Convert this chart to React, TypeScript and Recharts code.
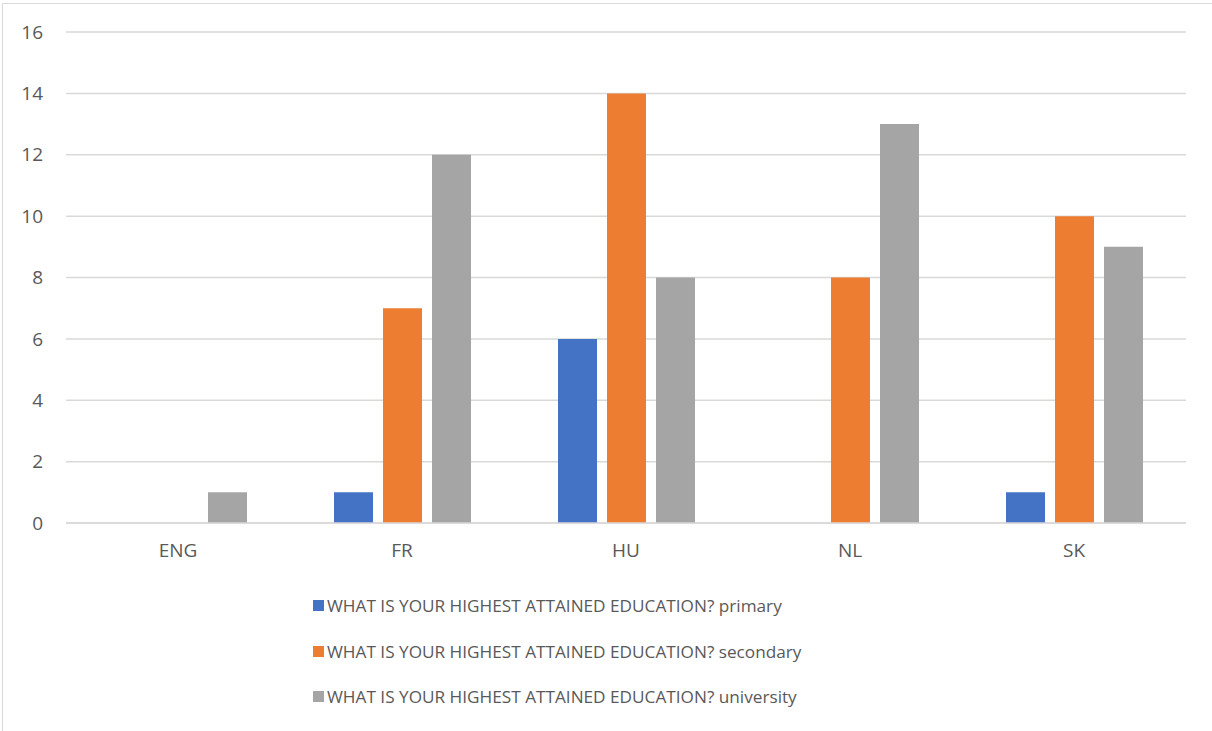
import React from 'react';
import { BarChart, Bar, XAxis, YAxis, CartesianGrid } from 'recharts';

const countries = ['ENG', 'FR', 'HU', 'NL', 'SK'];
const primary = [0, 1, 6, 0, 1];
const secondary = [0, 7, 14, 8, 10];
const university = [1, 12, 8, 13, 9];
const yTicks = [0, 2, 4, 6, 8, 10, 12, 14, 16];

const question = 'WHAT IS YOUR HIGHEST ATTAINED EDUCATION?';
const seriesList = [
  { key: 'primary', name: `${question} primary`, color: '#4472C4' },
  { key: 'secondary', name: `${question} secondary`, color: '#ED7D31' },
  { key: 'university', name: `${question} university`, color: '#A5A5A5' },
];

const data = countries.map((country, i) => ({
  country,
  primary: primary[i],
  secondary: secondary[i],
  university: university[i],
}));

const FONT = '"Open Sans", sans-serif';
const TEXT = '#595959';

// legend sits under the plot, one entry per row
const LegendList = () => (
  <div
    style={{
      position: 'absolute',
      left: 313,
      top: 583,
      fontFamily: FONT,
      fontSize: 17.2,
      color: TEXT,
    }}
  >
    {seriesList.map((s) => (
      <div key={s.key} style={{ display: 'flex', alignItems: 'center', height: 45.5 }}>
        <span style={{ width: 11, height: 11, background: s.color, marginRight: 3, display: 'inline-block' }} />
        <span>{s.name}</span>
      </div>
    ))}
  </div>
);

export default function App() {
  return (
    <div
      style={{
        position: 'absolute',
        left: 0,
        top: 0,
        width: 1212,
        height: 731,
        background: '#fff',
        overflow: 'hidden',
      }}
    >
      <div
        style={{
          position: 'absolute',
          left: 2,
          top: 3,
          width: 1240,
          height: 760,
          border: '1px solid #d9d9d9',
        }}
      />
      <BarChart
        width={1212}
        height={731}
        data={data}
        margin={{ top: 32, right: 26, bottom: 0, left: 0 }}
        barSize={39}
        barGap={10}
      >
        <CartesianGrid vertical={false} stroke="#d9d9d9" strokeWidth={1.5} />
        <YAxis
          width={66}
          domain={[0, 16]}
          ticks={yTicks}
          axisLine={false}
          tickLine={false}
          tickMargin={17}
          tick={{ fill: TEXT, fontSize: 19, fontFamily: FONT }}
        />
        <XAxis
          dataKey="country"
          height={208}
          axisLine={{ stroke: '#d9d9d9', strokeWidth: 1.5 }}
          tickLine={false}
          tickMargin={15}
          tick={{ fill: TEXT, fontSize: 19, fontFamily: FONT }}
        />
        {seriesList.map((s) => (
          <Bar key={s.key} dataKey={s.key} name={s.name} fill={s.color} isAnimationActive={false} />
        ))}
      </BarChart>
      <LegendList />
    </div>
  );
}
